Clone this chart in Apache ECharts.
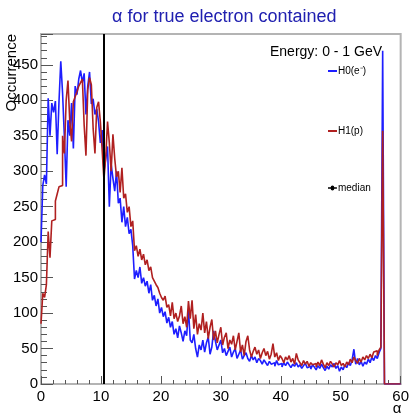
<!DOCTYPE html>
<html>
<head>
<meta charset="utf-8">
<script src="https://cdn.jsdelivr.net/npm/echarts@6/dist/echarts.min.js"></script>
<style>
  html, body { margin: 0; padding: 0; background: #fff; }
  #chart { width: 412px; height: 414px; }
</style>
</head>
<body>
<div id="chart"></div>
<script>
// Histogram binning: 200 bins of 0.3 deg over [0, 60)
const binWidth = 0.3;
const nBins = 200;

// H0 (electron) counts per bin, starting at alpha = 0
const h0Counts = [
  200, 280, 295, 282, 403, 350, 396, 383, 399, 324,
  398, 455, 410, 348, 278, 372, 350, 396, 332, 420,
  408, 430, 442, 425, 438, 380, 420, 440, 395, 402,
  380, 388, 370, 340, 358, 300, 318, 335, 250, 310,
  290, 272, 300, 255, 262, 228, 250, 222, 235, 212,
  218, 195, 148, 160, 150, 165, 142, 150, 138, 145,
  128, 140, 118, 125, 110, 120, 100, 108, 95, 102,
  86, 94, 80, 88, 70, 78, 65, 82, 72, 60,
  75, 68, 105, 62, 58, 70, 50, 38, 55, 48,
  62, 45, 58, 66, 42, 52, 75, 60, 48, 55,
  62, 44, 50, 40, 46, 52, 38, 45, 50, 36,
  42, 48, 35, 40, 44, 36, 32, 40, 34, 38,
  30, 36, 33, 28, 34, 30, 26, 32, 28, 30,
  25, 33, 27, 29, 24, 30, 26, 31, 27, 23,
  28, 25, 30, 24, 27, 22, 26, 29, 23, 25,
  21, 27, 24, 20, 26, 22, 28, 23, 19, 25,
  21, 27, 24, 29, 22, 26, 18, 24, 20, 27,
  23, 30, 26, 34, 49, 28, 36, 27, 32, 25,
  31, 28, 35, 30, 38, 33, 40, 36, 44, 50,
  470
];

// H1 (proton) counts per bin, starting at alpha = 0
const h1Counts = [
  85, 128, 122, 140, 215, 178, 230, 232, 258, 268,
  278, 280, 350, 325, 400, 428, 370, 342, 398, 405,
  412, 420, 425, 430, 365, 322, 415, 432, 422, 360,
  325, 390, 398, 370, 330, 288, 320, 370, 340, 300,
  352, 318, 292, 300, 270, 305, 262, 268, 242, 250,
  222, 230, 188, 195, 180, 190, 175, 183, 168, 175,
  160, 165, 150, 145, 140, 136, 128, 122, 118, 124,
  108, 112, 96, 115, 92, 100, 88, 96, 110, 85,
  95, 80, 117, 92, 118, 78, 98, 70, 85, 76,
  100, 72, 88, 64, 80, 91, 62, 75, 58, 70,
  80, 55, 66, 72, 50, 62, 56, 68, 48, 60,
  72, 45, 55, 40, 60, 68, 48, 38, 46, 52,
  42, 48, 36, 44, 50, 40, 46, 35, 42, 57,
  38, 44, 33, 40, 36, 30, 38, 34, 40, 31,
  36, 28, 43, 34, 30, 26, 33, 28, 32, 25,
  30, 27, 29, 24, 31, 26, 34, 28, 23, 30,
  26, 32, 28, 24, 30, 27, 33, 26, 29, 24,
  31, 27, 35, 30, 38, 33, 29, 36, 31, 38,
  34, 40, 36, 42, 37, 45, 47, 40, 48, 52,
  357
];

// Median of the alpha distribution
const medianAlpha = 10.5;

// Axis settings
const xRange = [0, 60];
const yRange = [0, 493.5];
const xTickStep = 10;
const yTickStep = 50;

// Turn per-bin counts into step points at the left bin edges
function toSteps(counts) {
  const pts = [];
  for (let i = 0; i < nBins; i++) {
    const v = i < counts.length ? counts[i] : 0;
    pts.push([+(i * binWidth).toFixed(4), v]);
  }
  pts.push([+(nBins * binWidth).toFixed(4), 0]);
  return pts;
}

const FONT = '"Liberation Sans", Arial, sans-serif';
const H0_COLOR = '#1e1eff';
const H1_COLOR = '#b02020';

const chart = echarts.init(document.getElementById('chart'), null, { renderer: 'canvas' });

chart.setOption({
  animation: false,
  backgroundColor: '#ffffff',
  textStyle: { fontFamily: FONT },
  title: [
    {
      text: 'α for true electron contained',
      left: 107, top: 3,
      textStyle: { fontFamily: FONT, fontSize: 18, fontWeight: 'normal', color: '#2020b0' }
    },
    {
      text: 'Energy: 0 - 1 GeV',
      left: 265, top: 40,
      textStyle: { fontFamily: FONT, fontSize: 14, fontWeight: 'normal', color: '#000' }
    }
  ],
  legend: [
    {
      data: ['H0(e⁻)'], left: 323, top: 61, orient: 'vertical',
      itemWidth: 9, itemHeight: 2, itemGap: 0, icon: 'rect',
      textStyle: { fontFamily: FONT, fontSize: 10, color: '#000', padding: [0, 0, 0, -4] },
      selectedMode: false
    },
    {
      data: ['H1(p)'], left: 323, top: 121, orient: 'vertical',
      itemWidth: 9, itemHeight: 2, itemGap: 0, icon: 'rect',
      textStyle: { fontFamily: FONT, fontSize: 10, color: '#000', padding: [0, 0, 0, -4] },
      selectedMode: false
    },
    {
      data: ['median'], left: 323, top: 178, orient: 'vertical',
      itemWidth: 9, itemHeight: 5, itemGap: 0,
      icon: 'path://M0,4.2 L3,4.2 A2,2 0 1,1 7,4.2 L10,4.2 L10,5.8 L7,5.8 A2,2 0 1,1 3,5.8 L0,5.8 Z',
      textStyle: { fontFamily: FONT, fontSize: 10, color: '#000', padding: [0, 0, 0, -4] },
      selectedMode: false
    }
  ],
  grid: {
    left: 41, right: 10, top: 34, bottom: 30,
    show: true, borderColor: '#b4b4b4', borderWidth: 2, backgroundColor: 'transparent'
  },
  xAxis: {
    type: 'value',
    min: xRange[0], max: xRange[1], interval: xTickStep,
    axisLine: { show: true, lineStyle: { color: '#b4b4b4', width: 2 } },
    axisTick: { show: true, inside: true, length: 8, lineStyle: { color: '#555', width: 1 } },
    minorTick: { show: true, splitNumber: 5, length: 4, lineStyle: { color: '#555', width: 1 } },
    splitLine: { show: false },
    axisLabel: { color: '#000', fontSize: 15, fontFamily: FONT, margin: 5 }
  },
  yAxis: {
    type: 'value',
    min: yRange[0], max: yRange[1], interval: yTickStep,
    axisLine: { show: true, lineStyle: { color: '#b4b4b4', width: 2 } },
    axisTick: { show: true, inside: true, length: 12, lineStyle: { color: '#555', width: 1 } },
    minorTick: { show: true, splitNumber: 5, length: 6, lineStyle: { color: '#555', width: 1 } },
    splitLine: { show: false },
    axisLabel: { color: '#000', fontSize: 15, fontFamily: FONT, margin: 3, showMaxLabel: false }
  },
  graphic: [
    {
      type: 'text', x: 12, y: 34, rotation: Math.PI / 2,
      style: { text: 'Occurrence', fontFamily: FONT, fontSize: 15, fill: '#000',
               textAlign: 'right', textVerticalAlign: 'middle' }
    },
    {
      type: 'text', x: 397, y: 409,
      style: { text: 'α', fontFamily: FONT, fontSize: 15, fill: '#000',
               textAlign: 'center', textVerticalAlign: 'middle' }
    }
  ],
  series: [
    {
      name: 'H0(e⁻)', type: 'line', step: 'end', showSymbol: false, symbol: 'none',
      data: toSteps(h0Counts),
      lineStyle: { color: H0_COLOR, width: 1.6 }, itemStyle: { color: H0_COLOR },
      z: 2
    },
    {
      name: 'H1(p)', type: 'line', step: 'end', showSymbol: false, symbol: 'none',
      data: toSteps(h1Counts),
      lineStyle: { color: H1_COLOR, width: 1.6 }, itemStyle: { color: H1_COLOR },
      z: 3
    },
    {
      name: 'median', type: 'line', data: [], symbol: 'circle',
      lineStyle: { color: '#000', width: 2 }, itemStyle: { color: '#000' },
      markLine: {
        silent: true, symbol: ['none', 'none'], label: { show: false },
        lineStyle: { color: '#000', width: 2, type: 'solid' },
        data: [{ xAxis: medianAlpha }]
      },
      z: 4
    }
  ]
});
</script>
</body>
</html>
